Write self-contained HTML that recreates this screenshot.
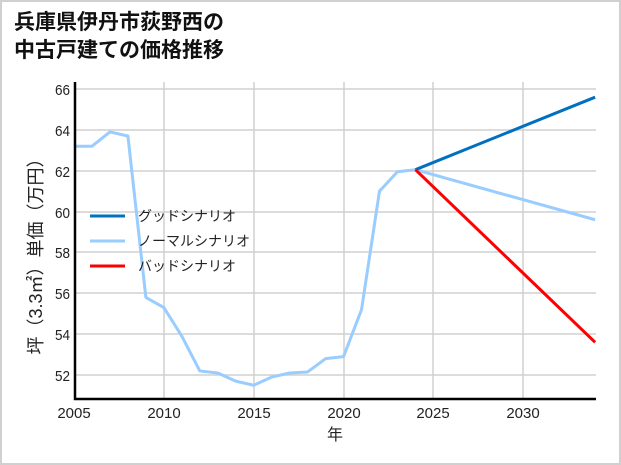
<!DOCTYPE html>
<html><head><meta charset="utf-8"><style>
body{margin:0;background:#fff}
svg{display:block;font-family:"Liberation Sans","Noto Sans CJK JP",sans-serif}
</style></head><body>
<svg width="621" height="465" viewBox="0 0 621 465">
<rect x="1" y="1" width="619" height="463" fill="#fff" stroke="#d0d0d0" stroke-width="2"/>
<text x="14" y="29" font-size="21" font-weight="bold" fill="#111">兵庫県伊丹市荻野西の</text>
<text x="14" y="57" font-size="21" font-weight="bold" fill="#111">中古戸建ての価格推移</text>
<g stroke="#d0d0d0" stroke-width="1.5">
<line x1="75" x2="596" y1="89" y2="89"/><line x1="75" x2="596" y1="130" y2="130"/>
<line x1="75" x2="596" y1="171" y2="171"/><line x1="75" x2="596" y1="212" y2="212"/>
<line x1="75" x2="596" y1="252" y2="252"/><line x1="75" x2="596" y1="293" y2="293"/>
<line x1="75" x2="596" y1="334" y2="334"/><line x1="75" x2="596" y1="375" y2="375"/>
<line y1="82" y2="399" x1="164" x2="164"/><line y1="82" y2="399" x1="254" x2="254"/>
<line y1="82" y2="399" x1="344" x2="344"/><line y1="82" y2="399" x1="433" x2="433"/>
<line y1="82" y2="399" x1="523" x2="523"/>
</g>
<g fill="none" stroke-width="3" stroke-linejoin="round" transform="translate(74,89) scale(17.97,-20.43) translate(-2005,-66)">
<polyline vector-effect="non-scaling-stroke" stroke="#99ccff" points="2005,63.2 2006,63.2 2007,63.9 2008,63.7 2009,55.8 2010,55.3 2011,53.9 2012,52.2 2013,52.1 2014,51.7 2015,51.5 2016,51.9 2017,52.1 2018,52.15 2019,52.8 2020,52.9 2021,55.2 2022,61.0 2023,61.95 2024,62.05"/>
<polyline vector-effect="non-scaling-stroke" stroke="#99ccff" points="2024,62.05 2034,59.6"/>
<polyline vector-effect="non-scaling-stroke" stroke="#0070c0" points="2024,62.05 2034,65.6"/>
<polyline vector-effect="non-scaling-stroke" stroke="#ff0000" points="2024,62.05 2034,53.6"/>
</g>
<g stroke="#000" stroke-width="2.5" fill="none"><polyline points="75,82 75,399 596,399"/></g>
<g font-size="15" fill="#222" text-anchor="end">
<text x="70" y="95" transform="translate(70,0) scale(0.9,1) translate(-70,0)">66</text>
<text x="70" y="136" transform="translate(70,0) scale(0.9,1) translate(-70,0)">64</text>
<text x="70" y="177" transform="translate(70,0) scale(0.9,1) translate(-70,0)">62</text>
<text x="70" y="218" transform="translate(70,0) scale(0.9,1) translate(-70,0)">60</text>
<text x="70" y="258" transform="translate(70,0) scale(0.9,1) translate(-70,0)">58</text>
<text x="70" y="299" transform="translate(70,0) scale(0.9,1) translate(-70,0)">56</text>
<text x="70" y="340" transform="translate(70,0) scale(0.9,1) translate(-70,0)">54</text>
<text x="70" y="381" transform="translate(70,0) scale(0.9,1) translate(-70,0)">52</text>
</g>
<g font-size="15" fill="#222" text-anchor="middle">
<text x="74" y="418">2005</text><text x="164" y="418">2010</text><text x="254" y="418">2015</text>
<text x="344" y="418">2020</text><text x="433" y="418">2025</text><text x="523" y="418">2030</text>
<text x="335" y="440" font-size="16">年</text>
</g>
<text transform="translate(42,252) rotate(-90)" font-size="18" fill="#222" text-anchor="middle">坪（3.3㎡）単価（万円）</text>
<g stroke-width="3">
<line x1="90" x2="125" y1="216" y2="216" stroke="#0070c0"/>
<line x1="90" x2="125" y1="241" y2="241" stroke="#99ccff"/>
<line x1="90" x2="125" y1="266" y2="266" stroke="#ff0000"/>
</g>
<g font-size="14" fill="#222">
<text x="138" y="221">グッドシナリオ</text>
<text x="138" y="246">ノーマルシナリオ</text>
<text x="138" y="271">バッドシナリオ</text>
</g>
</svg>
</body></html>
